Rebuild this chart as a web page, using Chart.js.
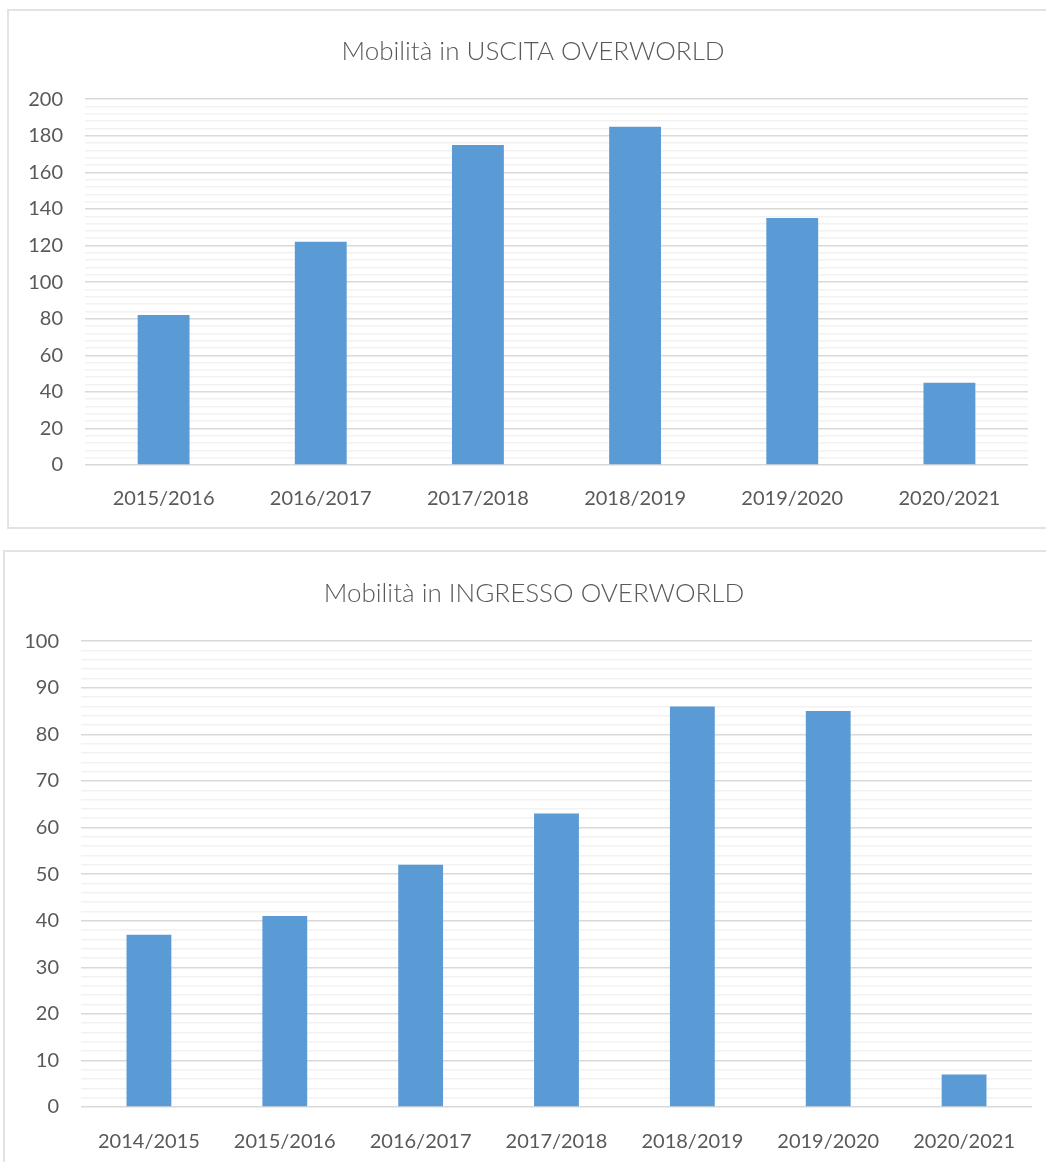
<!DOCTYPE html>
<html>
<head>
<meta charset="utf-8">
<script src="https://cdn.jsdelivr.net/npm/chart.js@4.4.0/dist/chart.umd.min.js"></script>
<style>
    body { margin: 0; background: #ffffff; overflow: hidden; }
    .box { position: absolute; border: 2px solid #e3e3e3; background: #fff; }
    #boxOut { left: 7px; top: 9px; width: 1060px; height: 516px; }
    #boxIn { left: 3px; top: 550px; width: 1060px; height: 640px; }
    canvas { position: absolute; }
</style>
</head>
<body>
<div class="box" id="boxOut"></div>
<div class="box" id="boxIn"></div>
<canvas id="outChart" width="1038" height="517" style="left:8px; top:10px;"></canvas>
<canvas id="inChart" width="1042" height="611" style="left:4px; top:551px;"></canvas>
<script>
// Data: uscita (outgoing)
const outTitle = 'Mobilità in USCITA OVERWORLD';
const outYears = ['2015/2016', '2016/2017', '2017/2018', '2018/2019', '2019/2020', '2020/2021'];
const outValues = [82, 122, 175, 185, 135, 45];

// Data: ingresso (incoming)
const inTitle = 'Mobilità in INGRESSO OVERWORLD';
const inYears = ['2014/2015', '2015/2016', '2016/2017', '2017/2018', '2018/2019', '2019/2020', '2020/2021'];
const inValues = [37, 41, 52, 63, 86, 85, 7];

const textColor = '#595959';
const barColor = '#5B9BD5';
const fontFamily = 'Lato, "Open Sans", sans-serif';

// Title is centred over the plot a bit to the right in the original
const titleShift = {
    id: 'titleShift',
    afterLayout(chart, args, options) {
        const t = chart.titleBlock;
        if (t) {
            t.left += options.shift;
            t.right += options.shift;
        }
    }
};

function makeChart(id, title, labels, values, opts) {
    const ctx = document.getElementById(id).getContext('2d');
    return new Chart(ctx, {
        type: 'bar',
        data: {
            labels: labels,
            datasets: [{
                data: values,
                backgroundColor: barColor,
                borderWidth: 0,
                barPercentage: 0.33,
                categoryPercentage: 1
            }]
        },
        plugins: [titleShift],
        options: {
            responsive: false,
            animation: false,
            layout: { padding: { left: 0, right: opts.right, top: 0, bottom: 0 } },
            plugins: {
                legend: { display: false },
                tooltip: { enabled: false },
                titleShift: { shift: opts.shift },
                title: {
                    display: true,
                    text: title,
                    color: textColor,
                    font: { family: fontFamily, size: 26, weight: '300' },
                    padding: { top: opts.titleTop, bottom: opts.titleBottom }
                }
            },
            scales: {
                x: {
                    grid: { display: false },
                    border: { display: false },
                    ticks: {
                        color: textColor,
                        font: { family: fontFamily, size: 20 },
                        padding: opts.xPad,
                        maxRotation: 0
                    },
                    afterFit: function(scale) { scale.height = opts.xHeight; }
                },
                y: {
                    min: 0,
                    max: opts.max,
                    border: { display: false },
                    grid: {
                        drawTicks: false,
                        lineWidth: 1.5,
                        color: function(c) {
                            return (c.tick && c.tick.value % opts.major === 0) ? '#d9d9d9' : '#f2f2f2';
                        }
                    },
                    ticks: {
                        stepSize: opts.minor,
                        autoSkip: false,
                        color: textColor,
                        font: { family: fontFamily, size: 20 },
                        padding: 22,
                        callback: function(v) {
                            return v % opts.major === 0 ? String(v) : '';
                        }
                    },
                    afterFit: function(scale) { scale.width = 77; }
                }
            }
        }
    });
}

makeChart('outChart', outTitle, outYears, outValues, {
    max: 200, major: 20, minor: 4,
    right: 18, shift: 15,
    titleTop: 26, titleBottom: 32,
    xHeight: 62, xPad: 14
});

makeChart('inChart', inTitle, inYears, inValues, {
    max: 100, major: 10, minor: 2,
    right: 14, shift: 16,
    titleTop: 27, titleBottom: 32,
    xHeight: 55, xPad: 15
});
</script>
</body>
</html>
